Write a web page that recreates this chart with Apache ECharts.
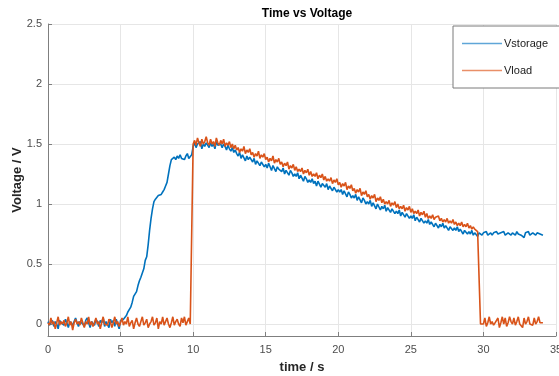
<!DOCTYPE html>
<html>
<head>
<meta charset="utf-8">
<script src="https://cdn.jsdelivr.net/npm/echarts@6/dist/echarts.min.js"></script>
<style>html,body{margin:0;padding:0;background:#fff;}#c{width:559px;height:376px;}</style>
</head>
<body>
<div id="c"></div>
<script>
var timeS = [
0.0,0.1,0.2,0.3,0.4,0.5,0.6,0.7,0.8,0.9,
1.0,1.1,1.2,1.3,1.4,1.5,1.6,1.7,1.8,1.9,
2.0,2.1,2.2,2.3,2.4,2.5,2.6,2.7,2.8,2.9,
3.0,3.1,3.2,3.3,3.4,3.5,3.6,3.7,3.8,3.9,
4.0,4.1,4.2,4.3,4.4,4.5,4.6,4.7,4.8,4.9,
5.0,5.1,5.2,5.3,5.4,5.5,5.6,5.7,5.8,5.9,
6.0,6.1,6.2,6.3,6.4,6.5,6.6,6.7,6.8,6.9,
7.0,7.1,7.2,7.3,7.4,7.5,7.6,7.7,7.8,7.9,
8.0,8.1,8.2,8.3,8.4,8.5,8.6,8.7,8.8,8.9,
9.0,9.1,9.2,9.3,9.4,9.5,9.6,9.7,9.8,9.9,
10.0,10.1,10.2,10.3,10.4,10.5,10.6,10.7,10.8,10.9,
11.0,11.1,11.2,11.3,11.4,11.5,11.6,11.7,11.8,11.9,
12.0,12.1,12.2,12.3,12.4,12.5,12.6,12.7,12.8,12.9,
13.0,13.1,13.2,13.3,13.4,13.5,13.6,13.7,13.8,13.9,
14.0,14.1,14.2,14.3,14.4,14.5,14.6,14.7,14.8,14.9,
15.0,15.1,15.2,15.3,15.4,15.5,15.6,15.7,15.8,15.9,
16.0,16.1,16.2,16.3,16.4,16.5,16.6,16.7,16.8,16.9,
17.0,17.1,17.2,17.3,17.4,17.5,17.6,17.7,17.8,17.9,
18.0,18.1,18.2,18.3,18.4,18.5,18.6,18.7,18.8,18.9,
19.0,19.1,19.2,19.3,19.4,19.5,19.6,19.7,19.8,19.9,
20.0,20.1,20.2,20.3,20.4,20.5,20.6,20.7,20.8,20.9,
21.0,21.1,21.2,21.3,21.4,21.5,21.6,21.7,21.8,21.9,
22.0,22.1,22.2,22.3,22.4,22.5,22.6,22.7,22.8,22.9,
23.0,23.1,23.2,23.3,23.4,23.5,23.6,23.7,23.8,23.9,
24.0,24.1,24.2,24.3,24.4,24.5,24.6,24.7,24.8,24.9,
25.0,25.1,25.2,25.3,25.4,25.5,25.6,25.7,25.8,25.9,
26.0,26.1,26.2,26.3,26.4,26.5,26.6,26.7,26.8,26.9,
27.0,27.1,27.2,27.3,27.4,27.5,27.6,27.7,27.8,27.9,
28.0,28.1,28.2,28.3,28.4,28.5,28.6,28.7,28.8,28.9,
29.0,29.1,29.2,29.3,29.4,29.5,29.6,29.7,29.8,29.9,
30.0,30.1,30.2,30.3,30.4,30.5,30.6,30.7,30.8,30.9,
31.0,31.1,31.2,31.3,31.4,31.5,31.6,31.7,31.8,31.9,
32.0,32.1,32.2,32.3,32.4,32.5,32.6,32.7,32.8,32.9,
33.0,33.1,33.2,33.3,33.4,33.5,33.6,33.7,33.8,33.9,
34.0,34.1
];

var vStorage = [
0.02,-0.01,0.01,0.03,-0.02,0.02,0.00,-0.04,0.03,0.01,
0.02,-0.01,0.04,0.01,-0.03,0.02,0.03,-0.01,0.02,0.05,
0.01,-0.02,0.02,0.03,0.00,-0.02,0.03,0.05,0.01,-0.03,
0.02,0.03,-0.01,0.04,0.02,-0.02,0.03,0.01,0.05,-0.02,
0.02,0.03,-0.03,0.04,0.01,0.03,-0.02,0.04,0.03,-0.04,
0.03,0.02,0.04,0.05,0.07,0.10,0.10,0.14,0.18,0.23,
0.23,0.27,0.32,0.36,0.39,0.39,0.46,0.53,0.56,0.66,
0.78,0.88,0.96,1.02,1.04,1.05,1.07,1.06,1.08,1.10,
1.12,1.15,1.18,1.25,1.32,1.37,1.38,1.39,1.37,1.40,
1.38,1.41,1.38,1.39,1.37,1.40,1.42,1.38,1.39,1.41,
1.48,1.51,1.47,1.50,1.49,1.52,1.46,1.50,1.48,1.51,
1.49,1.47,1.51,1.48,1.50,1.46,1.52,1.49,1.48,1.50,
1.47,1.50,1.48,1.45,1.49,1.46,1.44,1.47,1.43,1.45,
1.42,1.40,1.43,1.38,1.41,1.40,1.36,1.40,1.37,1.39,
1.37,1.35,1.38,1.33,1.36,1.36,1.32,1.35,1.34,1.31,
1.33,1.30,1.34,1.31,1.28,1.32,1.31,1.27,1.31,1.29,
1.29,1.27,1.30,1.25,1.28,1.27,1.24,1.28,1.26,1.23,
1.25,1.23,1.26,1.21,1.24,1.23,1.19,1.23,1.21,1.18,
1.20,1.18,1.21,1.17,1.19,1.15,1.19,1.18,1.14,1.17,
1.16,1.14,1.17,1.12,1.15,1.14,1.11,1.14,1.13,1.10,
1.12,1.10,1.12,1.08,1.11,1.10,1.06,1.10,1.08,1.05,
1.07,1.05,1.08,1.03,1.06,1.05,1.01,1.05,1.03,1.00,
1.02,1.00,1.03,0.98,1.01,1.00,0.96,1.00,0.99,0.95,
0.98,0.96,0.99,0.94,0.97,0.96,0.93,0.96,0.95,0.92,
0.94,0.92,0.95,0.90,0.93,0.92,0.89,0.92,0.91,0.88,
0.90,0.88,0.91,0.86,0.89,0.88,0.85,0.88,0.87,0.84,
0.86,0.84,0.87,0.83,0.85,0.85,0.81,0.84,0.83,0.80,
0.83,0.81,0.84,0.80,0.82,0.82,0.78,0.81,0.80,0.78,
0.80,0.78,0.81,0.77,0.79,0.79,0.75,0.78,0.77,0.75,
0.77,0.75,0.78,0.74,0.76,0.76,0.73,0.76,0.75,0.74,
0.76,0.75,0.77,0.74,0.75,0.76,0.74,0.76,0.75,0.77,
0.75,0.74,0.76,0.75,0.77,0.74,0.75,0.76,0.75,0.74,
0.76,0.75,0.74,0.77,0.75,0.76,0.74,0.75,0.72,0.76,
0.75,0.77,0.74,0.75,0.76,0.75,0.74,0.76,0.77,0.75,
0.75,0.74
];

var vLoad = [
0.01,-0.01,0.05,0.00,0.02,-0.04,0.01,0.06,-0.01,0.02,
0.00,0.03,-0.02,0.01,0.06,-0.01,0.02,-0.05,0.01,0.04,
0.00,0.02,-0.01,0.05,0.01,-0.03,0.02,0.00,0.06,-0.01,
0.02,-0.02,0.01,0.05,0.00,0.02,-0.04,0.01,0.06,0.00,
0.01,-0.01,0.04,0.02,-0.03,0.01,0.06,0.00,0.02,-0.02,
0.01,0.05,-0.01,0.02,0.00,0.06,-0.02,0.01,0.03,-0.04,
0.01,0.05,0.00,-0.02,0.02,0.06,-0.01,0.01,0.04,-0.03,
0.00,0.02,0.06,-0.01,0.01,0.05,-0.04,0.02,0.00,0.06,
-0.01,0.02,0.05,0.00,-0.03,0.01,0.06,-0.01,0.02,0.04,
0.00,-0.02,0.05,0.01,0.06,-0.01,0.02,0.05,0.00,0.01,
1.50,1.53,1.49,1.55,1.51,1.48,1.54,1.50,1.52,1.56,
1.51,1.49,1.54,1.50,1.52,1.48,1.55,1.51,1.49,1.53,
1.50,1.54,1.48,1.51,1.49,1.52,1.47,1.50,1.46,1.49,
1.45,1.47,1.43,1.46,1.44,1.48,1.42,1.45,1.43,1.46,
1.41,1.43,1.39,1.42,1.40,1.44,1.38,1.41,1.39,1.42,
1.37,1.39,1.35,1.38,1.36,1.40,1.34,1.37,1.35,1.38,
1.33,1.35,1.31,1.34,1.32,1.35,1.29,1.32,1.30,1.33,
1.28,1.31,1.27,1.29,1.27,1.30,1.25,1.28,1.26,1.29,
1.24,1.27,1.23,1.25,1.23,1.26,1.21,1.24,1.22,1.25,
1.20,1.23,1.19,1.21,1.19,1.22,1.17,1.20,1.18,1.21,
1.16,1.18,1.14,1.17,1.15,1.18,1.12,1.15,1.13,1.16,
1.11,1.13,1.09,1.12,1.10,1.13,1.07,1.10,1.08,1.11,
1.06,1.08,1.04,1.07,1.05,1.08,1.02,1.05,1.03,1.06,
1.01,1.04,1.00,1.02,1.00,1.03,0.98,1.01,0.99,1.02,
0.97,1.00,0.96,0.98,0.96,0.99,0.94,0.97,0.95,0.98,
0.93,0.96,0.92,0.94,0.92,0.95,0.90,0.93,0.91,0.94,
0.89,0.92,0.88,0.90,0.88,0.91,0.87,0.89,0.88,0.90,
0.86,0.88,0.85,0.87,0.85,0.88,0.84,0.86,0.84,0.87,
0.83,0.85,0.82,0.84,0.82,0.85,0.81,0.83,0.81,0.84,
0.80,0.82,0.79,0.81,0.79,0.80,0.77,0.78,0.00,0.01,
0.00,0.05,-0.02,0.01,0.06,0.00,0.02,-0.01,0.01,0.00,
0.05,-0.03,0.01,0.06,0.00,0.05,-0.02,0.01,0.06,0.02,
0.00,0.05,-0.01,0.02,0.06,0.00,0.01,-0.03,0.05,0.00,
0.02,0.06,0.00,0.01,-0.01,0.05,0.00,0.02,0.06,0.01,
0.00,0.01
];

var seriesNames = ['Vstorage', 'Vload'];
var xTickLabels = ['0','5','10','15','20','25','30','35'];

function pairs(ys) {
  var out = [];
  for (var i = 0; i < ys.length && i < timeS.length; i++) out.push([timeS[i], ys[i]]);
  return out;
}

var FONT = '"Liberation Sans", Arial, sans-serif';
var chart = echarts.init(document.getElementById('c'), null, {renderer: 'canvas'});
chart.setOption({
  animation: false,
  backgroundColor: '#ffffff',
  title: {
    text: 'Time vs Voltage',
    left: 302,
    textAlign: 'center',
    top: 3,
    textStyle: {fontFamily: FONT, fontSize: 12, fontWeight: 'bold', color: '#000000'}
  },
  legend: {
    orient: 'vertical',
    left: 453,
    top: 26,
    padding: [12, 12, 12, 9],
    itemGap: 16,
    itemWidth: 40,
    itemHeight: 1.5,
    icon: 'rect',
    backgroundColor: '#ffffff',
    borderColor: '#7a7a7a',
    borderWidth: 1,
    textStyle: {fontFamily: FONT, fontSize: 11, color: '#1a1a1a', padding: [0,0,0,-3]},
    data: [
      {name: seriesNames[0], icon: 'rect', itemStyle: {color: '#5fa6d8', borderWidth: 0}},
      {name: seriesNames[1], icon: 'rect', itemStyle: {color: '#e98f68', borderWidth: 0}}
    ]
  },
  grid: {left: 48, right: 3, top: 24, bottom: 40, containLabel: false, outerBoundsMode: 'none'},
  xAxis: {
    type: 'value',
    min: 0, max: 35, interval: 5,
    name: 'time / s',
    nameLocation: 'middle',
    nameGap: 25,
    nameMoveOverlap: false,
    nameTextStyle: {fontFamily: FONT, fontSize: 13, fontWeight: 'bold', color: '#262626'},
    axisLine: {show: true, onZero: false, lineStyle: {color: '#7f7f7f', width: 1}},
    axisTick: {show: true, inside: true, length: 4, lineStyle: {color: '#7f7f7f'}},
    axisLabel: {fontFamily: FONT, fontSize: 11, color: '#4d4d4d', margin: 8,
      formatter: function (v) { var i = Math.round(v / 5); return xTickLabels[i] !== undefined ? xTickLabels[i] : String(v); }},
    splitLine: {show: true, lineStyle: {color: '#e6e6e6', width: 1}}
  },
  yAxis: {
    type: 'value',
    min: -0.1, max: 2.5, splitNumber: 5,
    name: 'Voltage / V',
    nameLocation: 'middle',
    nameGap: 24,
    nameMoveOverlap: false,
    nameTextStyle: {fontFamily: FONT, fontSize: 13, fontWeight: 'bold', color: '#262626'},
    axisLine: {show: true, onZero: false, lineStyle: {color: '#7f7f7f', width: 1}},
    axisTick: {show: true, inside: true, length: 4, lineStyle: {color: '#7f7f7f'}},
    axisLabel: {fontFamily: FONT, fontSize: 11, color: '#4d4d4d', margin: 6, showMinLabel: false},
    splitLine: {show: true, lineStyle: {color: '#e6e6e6', width: 1}}
  },
  series: [
    {
      name: seriesNames[0], type: 'line', data: pairs(vStorage),
      showSymbol: false, symbol: 'none', color: '#0072BD',
      lineStyle: {color: '#0072BD', width: 1.6}
    },
    {
      name: seriesNames[1], type: 'line', data: pairs(vLoad),
      showSymbol: false, symbol: 'none', color: '#D95319',
      lineStyle: {color: '#D95319', width: 1.6}
    }
  ]
});
</script>
</body>
</html>
